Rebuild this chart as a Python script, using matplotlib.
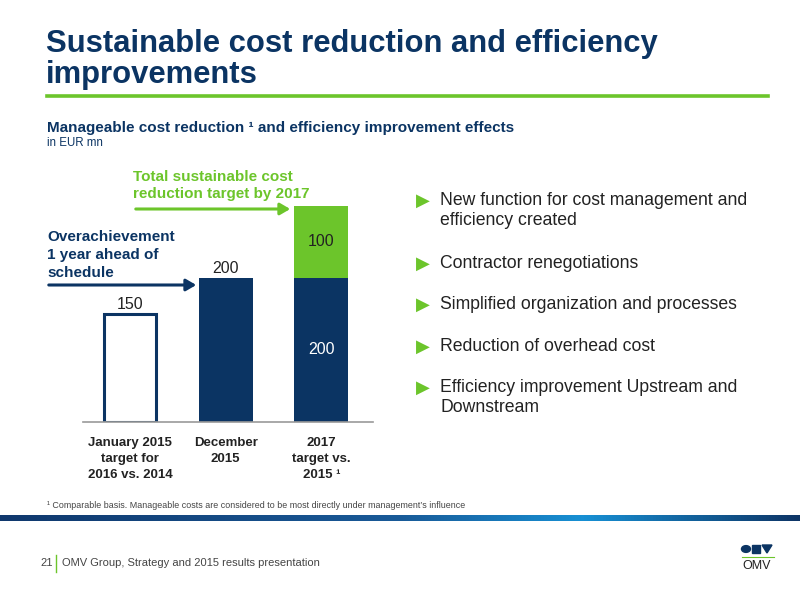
import numpy as np
import matplotlib
matplotlib.use("Agg")
import matplotlib.pyplot as plt
from matplotlib.patches import Rectangle, Circle, Polygon, FancyArrowPatch
from matplotlib.colors import LinearSegmentedColormap

plt.rcParams["font.family"] = ["Liberation Sans", "DejaVu Sans"]

NAVY = "#0b3463"
GREEN = "#6cc52b"
TEXT = "#222222"

# data
categories = ["January 2015\ntarget for\n2016 vs. 2014", "December\n2015", "2017\ntarget vs.\n2015 \u00b9"]
base_values = [150, 200, 200]
extra_values = [0, 0, 100]
bullets = [
    "New function for cost management and\nefficiency created",
    "Contractor renegotiations",
    "Simplified organization and processes",
    "Reduction of overhead cost",
    "Efficiency improvement Upstream and\nDownstream",
]

W, H = 800, 600
fig = plt.figure(figsize=(8, 6), dpi=100)


def fx(x):
    return x / W


def fy(y):
    return 1 - y / H


def ftext(x, y, s, **kw):
    fig.text(fx(x), fy(y), s, **kw)


# title block
ftext(46, 44, "Sustainable cost reduction and efficiency", fontsize=22.3, color=NAVY,
      va="center", fontweight="bold")
ftext(46, 75, "improvements", fontsize=22.3, color=NAVY, va="center", fontweight="bold")
fig.add_artist(plt.Line2D([fx(47), fx(768)], [fy(96), fy(96)], color=GREEN, lw=2.6))
ftext(47, 128, "Manageable cost reduction \u00b9 and efficiency improvement effects",
      fontsize=11, color=NAVY, va="center", fontweight="bold")
ftext(47, 143, "in EUR mn", fontsize=8.3, color=NAVY, va="center")

# bar chart
ax_left, ax_right, ax_top, ax_bottom = 83, 373, 180, 422
ax = fig.add_axes([fx(ax_left), fy(ax_bottom), fx(ax_right - ax_left), (ax_bottom - ax_top) / H])
x = np.arange(len(categories))
width = 0.565
for i, (b, e) in enumerate(zip(base_values, extra_values)):
    if i == 0:
        ax.bar(x[i], b, width=width - 0.02, facecolor="white", edgecolor=NAVY, linewidth=2.2)
    else:
        ax.bar(x[i], b, width=width, color=NAVY)
    if e:
        ax.bar(x[i], e, bottom=b, width=width, color=GREEN)
ax.set_xlim(-0.49, 2.54)
ax.set_ylim(0, 336)
for s in ["top", "right", "left"]:
    ax.spines[s].set_visible(False)
ax.spines["bottom"].set_color("#999999")
ax.spines["bottom"].set_linewidth(1.2)
ax.set_yticks([])
ax.set_xticks(x)
ax.set_xticklabels(categories, fontsize=9.5, fontweight="bold", color=TEXT, linespacing=1.42)
ax.tick_params(axis="x", length=0, pad=11)

# value labels
for i in range(2):
    ax.text(x[i], base_values[i] + 3, str(base_values[i]), ha="center", va="bottom", fontsize=11.5, color=TEXT)
ax.text(x[2], base_values[2] + extra_values[2] / 2, str(extra_values[2]), ha="center", va="center",
        fontsize=11.5, color=TEXT)
ax.text(x[2], base_values[2] / 2, str(base_values[2]), ha="center", va="center", fontsize=11.5, color="white")

# annotations with arrows
ftext(133, 177, "Total sustainable cost", fontsize=11, color=GREEN, fontweight="bold", va="center")
ftext(133, 194, "reduction target by 2017", fontsize=11, color=GREEN, fontweight="bold", va="center")
fig.add_artist(FancyArrowPatch((fx(133), fy(209)), (fx(293), fy(209)),
               transform=fig.transFigure, arrowstyle="-|>,head_length=6,head_width=3.5",
               color=GREEN, lw=2.2, mutation_scale=1))
ftext(47, 237, "Overachievement", fontsize=11, color=NAVY, fontweight="bold", va="center")
ftext(47, 255, "1 year ahead of", fontsize=11, color=NAVY, fontweight="bold", va="center")
ftext(47, 273, "schedule", fontsize=11, color=NAVY, fontweight="bold", va="center")
fig.add_artist(FancyArrowPatch((fx(46), fy(285)), (fx(199), fy(285)),
               transform=fig.transFigure, arrowstyle="-|>,head_length=6,head_width=3.5",
               color=NAVY, lw=2.2, mutation_scale=1))

# bullets
bullet_y = [201, 264, 305, 347, 388]
for yb, t in zip(bullet_y, bullets):
    ftext(416, yb, "\u25b6", fontsize=13, color=GREEN, va="center", family=["DejaVu Sans"])
    ftext(440, yb - 9, t, fontsize=12.7, color=TEXT, va="top", linespacing=1.22)

# footnote
ftext(47, 506, "\u00b9 Comparable basis. Manageable costs are considered to be most directly under management\u2019s influence",
      fontsize=6.4, color="#444444", va="center")

# gradient band
band = fig.add_axes([0, fy(521), 1, 6 / H])
cmap = LinearSegmentedColormap.from_list(
    "band", [(0, "#10386d"), (0.5, "#195a98"), (0.73, "#1790d4"), (1, "#0e3566")])
band.imshow(np.linspace(0, 1, 256)[None, :], aspect="auto", cmap=cmap, extent=[0, 1, 0, 1])
band.axis("off")

# footer
ftext(40, 563, "21", fontsize=8, color="#444444", va="center")
fig.add_artist(plt.Line2D([fx(56), fx(56)], [fy(555), fy(572)], color=GREEN, lw=1))
ftext(62, 563, "OMV Group, Strategy and 2015 results presentation", fontsize=8, color="#444444", va="center")

# logo
fig.add_artist(Circle((fx(746), fy(549)), 4.5 / W, transform=fig.transFigure, color=NAVY))
fig.add_artist(Rectangle((fx(752), fy(553)), 8 / W, 8 / H, transform=fig.transFigure, color=NAVY))
fig.add_artist(Polygon([(fx(762), fy(545)), (fx(772), fy(545)), (fx(767), fy(553))],
                       closed=True, transform=fig.transFigure, color=NAVY))
fig.add_artist(plt.Line2D([fx(742), fx(774)], [fy(557), fy(557)], color=GREEN, lw=0.8))
ftext(757, 566, "OMV", fontsize=9, color=TEXT, ha="center", va="center")

fig.savefig("out.png", dpi=100)
